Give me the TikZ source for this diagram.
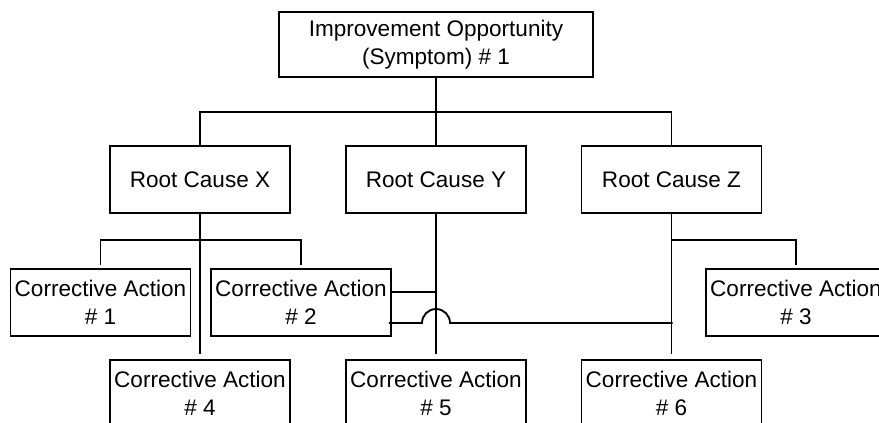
\documentclass[tikz,border=0pt]{standalone}
\usepackage{fontspec}
\setmainfont{Liberation Sans}
\begin{document}
\begin{tikzpicture}[x=0.75pt,y=-0.75pt,
  box/.style={draw,line width=1.4pt,inner sep=0pt,align=center,
    minimum width=135pt,minimum height=50pt,
    font=\fontsize{16.9}{21}\selectfont},
  link/.style={line width=1.4pt}]
\useasboundingbox (0,0) rectangle (879,423);
\clip (0,0) rectangle (879,423);

% symptom
\node[box,minimum width=235.5pt,minimum height=49pt] (top) at (436,44.5)
  {Improvement Opportunity\\(Symptom) \# 1};

% root causes
\node[box] (rx) at (200,179.5) {Root Cause X};
\node[box] (ry) at (436,179.5) {Root Cause Y};
\node[box] (rz) at (671.5,179.5) {Root Cause Z};

% corrective actions, first row
\node[box] (ca1) at (100.5,302.5) {Corrective Action\\\# 1};
\node[box] (ca2) at (301,302.5) {Corrective Action\\\# 2};
\node[box] (ca3) at (796,302.5) {Corrective Action\\\# 3};

% corrective actions, second row
\node[box] (ca4) at (200,393.5) {Corrective Action\\\# 4};
\node[box] (ca5) at (436,393.5) {Corrective Action\\\# 5};
\node[box] (ca6) at (671.5,393.5) {Corrective Action\\\# 6};

% bus points
\coordinate (tbus) at (436,112);
\coordinate (xbus) at (200,240);
\coordinate (jl) at ([xshift=-2.25pt,yshift=-15.4pt]ca2.east);

% symptom to root causes
\draw[link] (top.south) -- (tbus);
\draw[link] (rx.north) |- (tbus) -| (rz.north);
\draw[link] (ry.north) -- (tbus);

% root cause X
\draw[link] (rx.south) -- ([yshift=3.75pt]ca4.north);
\draw[link] ([yshift=2.25pt]ca1.north) |- (xbus) -| ([yshift=2.25pt]ca2.north);

% root cause Y
\draw[link] (ry.south) -- ([yshift=3.75pt]ca5.north);
\draw[link] ([yshift=7.9pt]ca2.east) -- ([yshift=7.9pt]ca2.east -| ry.south);

% root cause Z
\draw[link] (rz.south) -- ([yshift=3.75pt]ca6.north);
\draw[link] ([yshift=2.25pt]ca3.north) |- (rz.south |- xbus);

% action 2 to root cause Z, hopping over the Y line
\draw[link] (jl) -- ([xshift=-10.5pt]jl -| ry.south)
  arc[start angle=180,end angle=0,radius=10.5pt] -- ([xshift=0.75pt]jl -| rz.south);
\end{tikzpicture}
\end{document}
